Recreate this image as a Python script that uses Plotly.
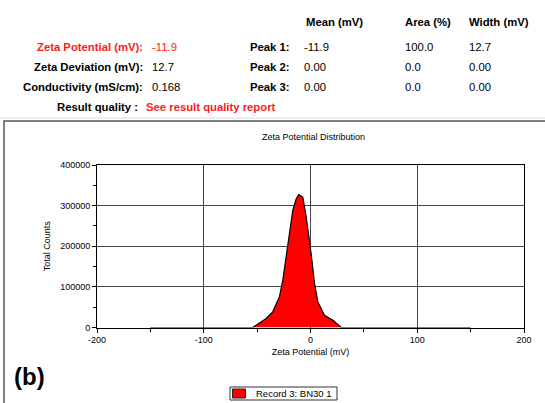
import plotly.graph_objects as go

W, H = 545, 403

zeta_mv = [-150, -100, -60, -54, -49.5, -41.6, -35.4, -29.1, -26, -21.3, -16.6, -13.4, -11,
           -7.2, -4, 0.6, 3.8, 6.9, 13.1, 21, 25.6, 28.8, 60, 100, 150]
total_counts = [0, 0, 0, 0, 8200, 22100, 38500, 75400, 116000, 198000, 288000, 317000, 327000,
                321000, 272000, 182000, 108000, 63000, 30000, 18000, 8200, 0, 0, 0, 0]

series_name = "Record 3: BN30 1"

x_ticks = [-200, -100, 0, 100, 200]
x_tick_labels = ["-200", "-100", "0", "100", "200"]
y_ticks = [0, 100000, 200000, 300000, 400000]

def px(x):
    return x / W

def py(y):
    return 1 - y / H

fig = go.Figure()
fig.add_trace(go.Scatter(
    x=zeta_mv, y=total_counts, mode="lines", fill="tozeroy",
    fillcolor="#ff0000", line=dict(color="black", width=1.2),
    name=series_name, showlegend=False,
))

font = "Liberation Sans, Arial, sans-serif"

fig.update_layout(
    width=W, height=H,
    margin=dict(l=0, r=0, t=0, b=0, autoexpand=False),
    paper_bgcolor="white", plot_bgcolor="white",
    font=dict(family=font, color="black", size=9),
    showlegend=False,
    xaxis=dict(domain=[px(97), px(524)], range=[-200, 200], tickvals=x_ticks,
               ticktext=x_tick_labels, automargin=False,
               ticks="outside", ticklen=4, tickcolor="black",
               minor=dict(dtick=50, ticks="outside", ticklen=3, tickcolor="black", showgrid=False),
               showgrid=True, gridcolor="#444", gridwidth=1,
               showline=True, linecolor="black", linewidth=1, mirror=True,
               zeroline=False, tickfont=dict(size=9),
               title=dict(text="Zeta Potential (mV)", font=dict(size=9), standoff=4)),
    yaxis=dict(domain=[py(327.5), py(165)], range=[0, 400000], tickvals=y_ticks,
               tickformat="d", ticks="outside", ticklen=4, tickcolor="black", automargin=False,
               minor=dict(dtick=50000, ticks="outside", ticklen=3, tickcolor="black", showgrid=False),
               showgrid=True, gridcolor="#444", gridwidth=1,
               showline=True, linecolor="black", linewidth=1, mirror=True,
               zeroline=False, tickfont=dict(size=9),
               title=dict(text="Total Counts", font=dict(size=9), standoff=8)),
)

# frame around chart area
fig.add_shape(type="rect", xref="paper", yref="paper",
              x0=px(4), x1=px(546), y0=py(404), y1=py(121),
              line=dict(color="#555", width=1.5), fillcolor="rgba(0,0,0,0)", layer="below")
fig.add_shape(type="line", xref="paper", yref="paper",
              x0=0, x1=1, y0=py(118), y1=py(118),
              line=dict(color="#ddd", width=1))

# legend box (drawn manually to mimic the original style)
fig.add_shape(type="rect", xref="paper", yref="paper",
              x0=px(230), x1=px(337), y0=py(400), y1=py(387),
              line=dict(color="#333", width=1), fillcolor="white")
fig.add_shape(type="rect", xref="paper", yref="paper",
              x0=px(232.5), x1=px(245.5), y0=py(398), y1=py(389),
              line=dict(color="#222", width=1), fillcolor="#ff0000")

anns = []
def txt(x, y, s, anchor="left", color="black", bold=False, size=11.3):
    anns.append(dict(x=px(x), y=py(y), xref="paper", yref="paper", text=f"<b>{s}</b>" if bold else s,
                     showarrow=False, xanchor=anchor, yanchor="middle",
                     font=dict(family=font, size=size, color=color)))

red = "#ff1a1a"
txt(304, 22, "Mean (mV)", bold=True)
txt(403, 22, "Area (%)", bold=True)
txt(467, 22, "Width (mV)", bold=True)

txt(145, 47, "Zeta Potential (mV):", "right", red, True)
txt(150, 47, "-11.9", color=red)
txt(145, 67, "Zeta Deviation (mV):", "right", bold=True)
txt(150, 67, "12.7")
txt(145, 87, "Conductivity (mS/cm):", "right", bold=True)
txt(150, 87, "0.168")

for i, (m, a, w) in enumerate([("-11.9", "100.0", "12.7"), ("0.00", "0.0", "0.00"), ("0.00", "0.0", "0.00")]):
    yy = 47 + 20 * i
    txt(292, yy, f"Peak {i+1}:", "right", bold=True)
    txt(302, yy, m)
    txt(403, yy, a)
    txt(467, yy, w)

txt(140, 107, "Result quality :", "right", bold=True)
txt(144, 107, "See result quality report", color=red, bold=True)

txt(313, 137, "Zeta Potential Distribution", "center", size=9)
txt(12, 376, "(b)", bold=True, size=24)
txt(254, 393.5, series_name, size=9.5)

fig.update_layout(annotations=anns)
fig.write_html("out.html", config={"displayModeBar": False},
               post_script="document.body.style.margin='0';")
